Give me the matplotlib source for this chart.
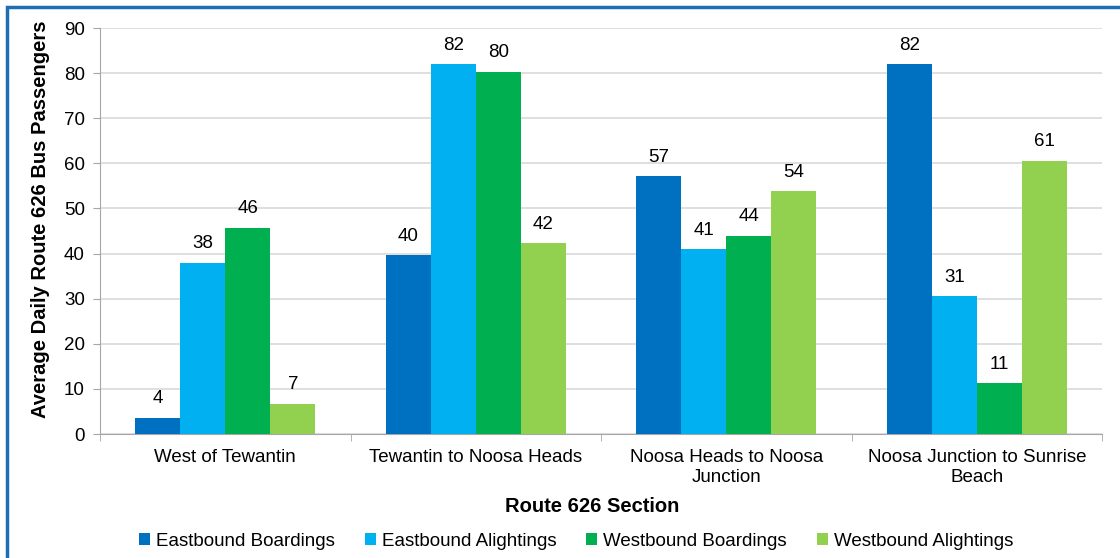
import numpy as np
import matplotlib.pyplot as plt
from matplotlib.patches import Rectangle

plt.rcParams['font.family'] = ['Liberation Sans', 'DejaVu Sans']

sections = ['West of Tewantin', 'Tewantin to Noosa Heads',
            'Noosa Heads to Noosa\nJunction', 'Noosa Junction to Sunrise\nBeach']
east_board = [3.6, 39.6, 57.2, 82.0]
east_alight = [38.0, 82.0, 41.0, 30.6]
west_board = [45.7, 80.3, 44.0, 11.2]
west_alight = [6.7, 42.3, 53.8, 60.6]

series = [
    ('Eastbound Boardings', east_board, '#0070C0'),
    ('Eastbound Alightings', east_alight, '#00B0F0'),
    ('Westbound Boardings', west_board, '#00B050'),
    ('Westbound Alightings', west_alight, '#92D050'),
]

fig = plt.figure(figsize=(11.2, 5.58), dpi=100)
ax = fig.add_axes([0.0893, 0.2222, 0.8947, 0.7276])

x = np.arange(len(sections))
w = 0.18
for i, (name, vals, color) in enumerate(series):
    pos = x + (i - 1.5) * w
    bars = ax.bar(pos, vals, width=w, color=color, label=name, zorder=3)
    for b, v in zip(bars, vals):
        ax.text(b.get_x() + b.get_width() / 2, v + 2.3, f'{v:.0f}',
                ha='center', va='bottom', fontsize=13.5, color='#000000')

ax.set_xlim(-0.5, 3.5)
ax.set_ylim(0, 90)
ax.set_yticks(np.arange(0, 91, 10))
ax.set_xticks(x)
ax.set_xticklabels(sections, fontsize=13.5, linespacing=1.2)
ax.set_xticks(np.arange(-0.5, 3.6, 1), minor=True)
ax.tick_params(axis='x', which='major', length=0, pad=11)
ax.tick_params(axis='x', which='minor', length=5, color='#A6A6A6')
ax.tick_params(axis='y', labelsize=13.5, length=5, color='#A6A6A6', pad=6)
ax.yaxis.grid(True, color='#D9D9D9', linewidth=1.2, zorder=0)
ax.set_axisbelow(True)
for s in ['top', 'right']:
    ax.spines[s].set_visible(False)
for s in ['left', 'bottom']:
    ax.spines[s].set_color('#A6A6A6')

ax.set_ylabel('Average Daily Route 626 Bus Passengers', fontsize=14.5, fontweight='bold')
ax.yaxis.set_label_coords(-0.05, 0.53)
ax.set_xlabel('Route 626 Section', fontsize=14.5, fontweight='bold', labelpad=8)
ax.xaxis.label.set_x(0.491)

ax.legend(loc='center', bbox_to_anchor=(0.475, -0.264), ncol=4, frameon=False,
          fontsize=13.5, handlelength=0.6, handleheight=0.6, handletextpad=0.3,
          columnspacing=1.6)

fig.patches.append(Rectangle((7 / 1120, -0.05), 1.2, 1 - 7 / 558 + 0.05,
                             transform=fig.transFigure, fill=False,
                             edgecolor='#1F6EB4', linewidth=2.5))

fig.savefig('out.png', dpi=100)
